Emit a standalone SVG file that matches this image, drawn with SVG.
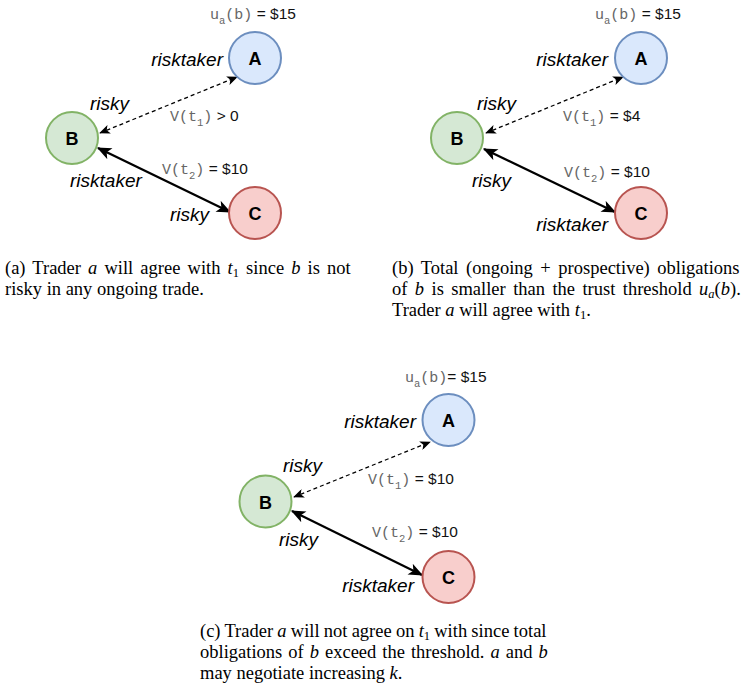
<svg xmlns="http://www.w3.org/2000/svg" width="743" height="687" viewBox="0 0 743 687">
<style>
.bg{fill:#ffffff}
.na{fill:#dae8fc;stroke:#6c8ebf;stroke-width:2}
.nb{fill:#d5e8d4;stroke:#82b366;stroke-width:2}
.nc{fill:#f8cecc;stroke:#b85450;stroke-width:2}
.nl{font-family:"Liberation Sans",Arial,sans-serif;font-weight:bold;font-size:18px;fill:#000;text-anchor:middle;dominant-baseline:central}
.it{font-family:"Liberation Sans",Arial,sans-serif;font-style:italic;font-size:19px;fill:#000}
.lb{font-family:"Liberation Sans",Arial,sans-serif;font-size:15.5px;fill:#111}
.mo{font-family:"Liberation Mono","Courier New",monospace;font-size:15px;fill:#666}
.sb{font-size:10.5px}
.dash{fill:none;stroke:#000;stroke-width:1.3;stroke-dasharray:4 3;marker-start:url(#ah1);marker-end:url(#ah1)}
.sol{fill:none;stroke:#000;stroke-width:2.2;marker-start:url(#ah2);marker-end:url(#ah2)}
.cap{font-family:"Liberation Serif","Times New Roman",serif;font-size:18.5px;fill:#000}
.cap .v{font-style:italic}
.cap .s{font-size:12.5px}
</style>
<defs>
<marker id="ah1" viewBox="0 0 12 10" refX="11" refY="5" markerWidth="11" markerHeight="9" markerUnits="userSpaceOnUse" orient="auto-start-reverse">
<path d="M0,0 L12,5 L0,10 L3,5 Z" fill="#000"/>
</marker>
<marker id="ah2" viewBox="0 0 12 10" refX="11" refY="5" markerWidth="15" markerHeight="12" markerUnits="userSpaceOnUse" orient="auto-start-reverse">
<path d="M0,0 L12,5 L0,10 L3,5 Z" fill="#000"/>
</marker>
</defs>
<rect class="bg" x="0" y="0" width="743" height="687"/>

<g id="connectors">
<line class="dash" x1="100" y1="133" x2="237" y2="77"/>
<line class="sol" x1="98" y1="148" x2="230" y2="212"/>
<line class="dash" x1="486" y1="133" x2="623" y2="77"/>
<line class="sol" x1="484" y1="149" x2="615" y2="212"/>
<line class="dash" x1="294" y1="497" x2="430" y2="442"/>
<line class="sol" x1="292" y1="511" x2="422" y2="575"/>
</g>

<!-- Panel (a) -->
<g id="a-A"><circle class="na" cx="255" cy="58" r="26"/><text class="nl" x="255" y="59">A</text></g>
<g id="a-B"><circle class="nb" cx="72" cy="138" r="26"/><text class="nl" x="72" y="139">B</text></g>
<g id="a-C"><circle class="nc" cx="255" cy="213" r="26"/><text class="nl" x="255" y="214">C</text></g>
<g id="a-labels">
<text class="lb" x="210" y="19"><tspan class="mo">u</tspan><tspan class="mo sb" dy="5">a</tspan><tspan class="mo" dy="-5">(b)</tspan> = $15</text>
<text class="it" x="223" y="66" text-anchor="end">risktaker</text>
<text class="it" x="90" y="110">risky</text>
<text class="lb" x="170" y="121"><tspan class="mo">V(t</tspan><tspan class="mo sb" dy="5">1</tspan><tspan class="mo" dy="-5">)</tspan> &gt; 0</text>
<text class="lb" x="162" y="174"><tspan class="mo">V(t</tspan><tspan class="mo sb" dy="5">2</tspan><tspan class="mo" dy="-5">)</tspan> = $10</text>
<text class="it" x="70" y="187">risktaker</text>
<text class="it" x="170" y="221">risky</text>
</g>

<!-- Panel (b) -->
<g id="b-A"><circle class="na" cx="641" cy="58" r="26"/><text class="nl" x="641" y="59">A</text></g>
<g id="b-B"><circle class="nb" cx="457" cy="138" r="26"/><text class="nl" x="457" y="139">B</text></g>
<g id="b-C"><circle class="nc" cx="641" cy="213" r="26"/><text class="nl" x="641" y="214">C</text></g>
<g id="b-labels">
<text class="lb" x="595" y="19"><tspan class="mo">u</tspan><tspan class="mo sb" dy="5">a</tspan><tspan class="mo" dy="-5">(b)</tspan> = $15</text>
<text class="it" x="608" y="66" text-anchor="end">risktaker</text>
<text class="it" x="477" y="110">risky</text>
<text class="lb" x="563" y="121"><tspan class="mo">V(t</tspan><tspan class="mo sb" dy="5">1</tspan><tspan class="mo" dy="-5">)</tspan> = $4</text>
<text class="lb" x="564" y="177"><tspan class="mo">V(t</tspan><tspan class="mo sb" dy="5">2</tspan><tspan class="mo" dy="-5">)</tspan> = $10</text>
<text class="it" x="472" y="187">risky</text>
<text class="it" x="608" y="231" text-anchor="end">risktaker</text>
</g>

<!-- Panel (c) -->
<g id="c-A"><circle class="na" cx="448.5" cy="420" r="26"/><text class="nl" x="448.5" y="421">A</text></g>
<g id="c-B"><circle class="nb" cx="265.5" cy="501.5" r="26"/><text class="nl" x="265.5" y="502.5">B</text></g>
<g id="c-C"><circle class="nc" cx="448.5" cy="577" r="26"/><text class="nl" x="448.5" y="578">C</text></g>
<g id="c-labels">
<text class="lb" x="405" y="382"><tspan class="mo">u</tspan><tspan class="mo sb" dy="5">a</tspan><tspan class="mo" dy="-5">(b)</tspan>= $15</text>
<text class="it" x="416" y="428" text-anchor="end">risktaker</text>
<text class="it" x="283" y="472">risky</text>
<text class="lb" x="368" y="484"><tspan class="mo">V(t</tspan><tspan class="mo sb" dy="5">1</tspan><tspan class="mo" dy="-5">)</tspan> = $10</text>
<text class="lb" x="372" y="537"><tspan class="mo">V(t</tspan><tspan class="mo sb" dy="5">2</tspan><tspan class="mo" dy="-5">)</tspan> = $10</text>
<text class="it" x="279" y="546">risky</text>
<text class="it" x="414" y="592" text-anchor="end">risktaker</text>
</g>

<g id="captions">
<text class="cap" x="5" y="274" word-spacing="2.5">(a) Trader <tspan class="v">a</tspan> will agree with <tspan class="v">t</tspan><tspan class="s" dy="3">1</tspan><tspan dy="-3"> since </tspan><tspan class="v">b</tspan> is not</text>
<text class="cap" x="5" y="295">risky in any ongoing trade.</text>

<text class="cap" x="392" y="274" word-spacing="2.9">(b) Total (ongoing + prospective) obligations</text>
<text class="cap" x="392" y="295" word-spacing="2.8">of <tspan class="v">b</tspan> is smaller than the trust threshold <tspan class="v">u</tspan><tspan class="v s" dy="3">a</tspan><tspan dy="-3">(</tspan><tspan class="v">b</tspan>).</text>
<text class="cap" x="392" y="316">Trader <tspan class="v">a</tspan> will agree with <tspan class="v">t</tspan><tspan class="s" dy="3">1</tspan><tspan dy="-3">.</tspan></text>

<text class="cap" x="200" y="637" word-spacing="-0.4">(c) Trader <tspan class="v">a</tspan> will not agree on <tspan class="v">t</tspan><tspan class="s" dy="3">1</tspan><tspan dy="-3"> with since total</tspan></text>
<text class="cap" x="200" y="658" word-spacing="1.4">obligations of <tspan class="v">b</tspan> exceed the threshold. <tspan class="v">a</tspan> and <tspan class="v">b</tspan></text>
<text class="cap" x="200" y="679">may negotiate increasing <tspan class="v">k</tspan>.</text>
</g>
</svg>
